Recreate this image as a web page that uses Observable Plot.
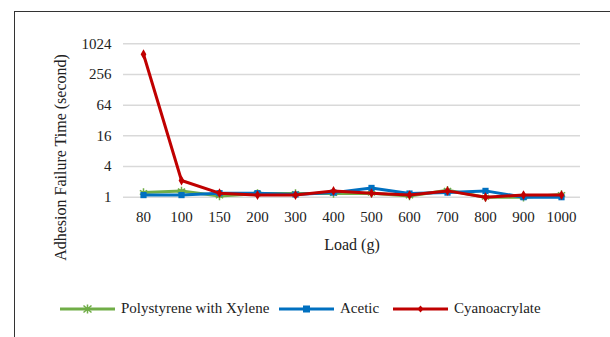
<!DOCTYPE html>
<html>
<head>
<meta charset="utf-8">
<script src="https://cdn.jsdelivr.net/npm/d3@7"></script>
<script src="https://cdn.jsdelivr.net/npm/@observablehq/plot@0.6"></script>
<style>
  html, body { margin: 0; padding: 0; background: #fff; }
  #wrap { position: relative; width: 610px; height: 337px; overflow: hidden; font-family: "Liberation Serif", "Times New Roman", serif; }
  #frame { position: absolute; left: 14px; top: 11px; width: 700px; height: 400px; border-left: 1.5px solid #333; border-top: 1.5px solid #333; }
  #chart { position: absolute; left: 0; top: 0; }
  #legend { position: absolute; left: 0; top: 300px; width: 610px; height: 20px; }
  .item { position: absolute; top: 0; display: flex; align-items: center; font-size: 15px; color: #222; white-space: nowrap; }
  .item svg { margin-right: 6px; }
</style>
</head>
<body>
<div id="wrap">
  <div id="frame"></div>
  <div id="chart"></div>
  <div id="legend"></div>
</div>
<script>
const loads = ["80","100","150","200","300","400","500","600","700","800","900","1000"];
const polystyrene = [1.24,1.33,1.06,1.18,1.18,1.18,1.2,1.06,1.37,1.0,1.0,1.13];
const acetic = [1.1,1.1,1.2,1.2,1.13,1.23,1.52,1.18,1.23,1.33,1.0,1.0];
const cyano = [640,2.13,1.2,1.1,1.1,1.33,1.2,1.1,1.33,1.0,1.1,1.1];
const yTicks = [1,4,16,64,256,1024];
const seriesNames = ["Polystyrene with Xylene","Acetic","Cyanoacrylate"];
const colors = ["#70AD47","#0070C0","#C00000"];

const rows = (vals, s) => loads.map((l, i) => ({load: l, value: vals[i], series: s}));
const dPoly = rows(polystyrene, seriesNames[0]);
const dAce = rows(acetic, seriesNames[1]);
const dCya = rows(cyano, seriesNames[2]);

const chart = Plot.plot({
  width: 610,
  height: 265,
  marginLeft: 123,
  marginRight: 30,
  marginTop: 43.3,
  marginBottom: 68.3,
  style: {background: "transparent", fontFamily: "'Liberation Serif', 'Times New Roman', serif", fontSize: "15px", color: "#222"},
  x: {type: "point", domain: loads, padding: 0.5},
  y: {type: "log", base: 2, domain: [1, 1024]},
  marks: [
    Plot.ruleY(yTicks, {stroke: "#d9d9d9", strokeWidth: 1.5}),
    Plot.axisY({ticks: yTicks, tickSize: 0, tickPadding: 12, tickFormat: d => String(d), label: null, fontSize: 15}),
    Plot.axisX({tickSize: 0, tickPadding: 14, label: null, fontSize: 15}),
    Plot.text(["Load (g)"], {frameAnchor: "bottom", dy: 53, fontSize: 16, fill: "#222"}),
    Plot.text(["Adhesion Failure Time (second)"], {frameAnchor: "left", textAnchor: "middle", rotate: -90, dx: -63, dy: 37, fontSize: 16, fill: "#222"}),
    Plot.line(dPoly, {x: "load", y: "value", stroke: colors[0], strokeWidth: 3}),
    Plot.dot(dPoly, {x: "load", y: "value", symbol: "asterisk", stroke: colors[0], strokeWidth: 1.5, r: 4}),
    Plot.line(dAce, {x: "load", y: "value", stroke: colors[1], strokeWidth: 3}),
    Plot.dot(dAce, {x: "load", y: "value", symbol: "square", fill: colors[1], r: 3.5}),
    Plot.line(dCya, {x: "load", y: "value", stroke: colors[2], strokeWidth: 3}),
    Plot.dot(dCya, {x: "load", y: "value", symbol: "diamond", fill: colors[2], r: 3})
  ]
});
document.getElementById("chart").appendChild(chart);

const legendX = [60, 279, 393];
const symPaths = [
  '<path d="M27.5 3.5v9M23.5 4.5l8 7M31.5 4.5l-8 7" stroke="COLOR" stroke-width="1.5"/>',
  '<rect x="24" y="4.5" width="7" height="7" fill="COLOR"/>',
  '<path d="M27.5 4.5l3 3.5-3 3.5-3-3.5z" fill="COLOR"/>'
];
const legend = document.getElementById("legend");
seriesNames.forEach((name, i) => {
  const div = document.createElement("div");
  div.className = "item";
  div.style.left = legendX[i] + "px";
  div.innerHTML = `<svg width="55" height="16"><line x1="0" x2="55" y1="8" y2="8" stroke="${colors[i]}" stroke-width="3"/>${symPaths[i].replace(/COLOR/g, colors[i])}</svg><span>${name}</span>`;
  legend.appendChild(div);
});
</script>
</body>
</html>
